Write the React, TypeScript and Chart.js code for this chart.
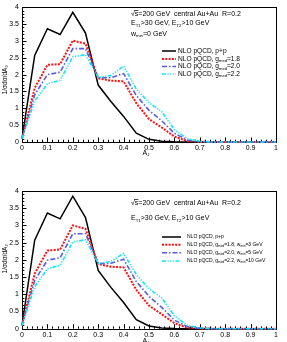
import React, { useEffect, useRef } from "react";
import { Chart, registerables } from "chart.js";
Chart.register(...registerables);

const AJ = [0, 0.05, 0.1, 0.15, 0.2, 0.25, 0.3, 0.35, 0.4, 0.45, 0.5, 0.55, 0.6, 0.65, 0.7, 0.75, 0.8, 0.85, 0.9, 0.95, 1.0];

const topPP = [0.1, 2.57, 3.36, 3.19, 3.85, 3.23, 1.69, 1.2, 0.76, 0.26, 0.08, 0.02, 0.005, 0, 0, 0, 0, 0, 0, 0, 0];
const topG18 = [0.1, 1.6, 2.29, 2.31, 3.01, 2.92, 1.89, 1.82, 1.8, 1.15, 0.68, 0.43, 0.16, 0.03, 0.01, 0, 0, 0, 0, 0, 0];
const topG20 = [0.1, 1.4, 2.0, 2.07, 2.77, 2.77, 1.9, 1.91, 2.03, 1.38, 0.94, 0.63, 0.26, 0.06, 0.01, 0, 0, 0, 0, 0, 0];
const topG22 = [0.1, 1.22, 1.73, 1.83, 2.53, 2.59, 1.92, 1.97, 2.25, 1.57, 1.17, 0.9, 0.37, 0.1, 0.02, 0, 0, 0, 0, 0, 0];

const botPP = [0.1, 2.57, 3.36, 3.19, 3.85, 3.23, 1.69, 1.2, 0.76, 0.26, 0.08, 0.02, 0.005, 0, 0, 0, 0, 0, 0, 0, 0];
const botG18 = [0.1, 1.6, 2.27, 2.3, 3.0, 2.9, 1.88, 1.8, 1.78, 1.13, 0.67, 0.42, 0.16, 0.03, 0.01, 0, 0, 0, 0, 0, 0];
const botG20 = [0.1, 1.4, 1.99, 2.06, 2.76, 2.76, 1.89, 1.9, 2.02, 1.37, 0.94, 0.62, 0.25, 0.06, 0.01, 0, 0, 0, 0, 0, 0];
const botG22 = [0.1, 1.22, 1.74, 1.84, 2.52, 2.58, 1.9, 1.95, 2.19, 1.57, 1.16, 0.9, 0.37, 0.1, 0.02, 0, 0, 0, 0, 0, 0];

const yTickValues = [0, 0.5, 1, 1.5, 2, 2.5, 3, 3.5, 4];
const xTickValues = [0, 0.1, 0.2, 0.3, 0.4, 0.5, 0.6, 0.7, 0.8, 0.9, 1];

const FONT = '"Liberation Sans", Arial, Helvetica, sans-serif';

type Part = [string, number];

const STYLES = [
  { color: "#000000", width: 1.5, dash: [] as number[] },
  { color: "#ff1010", width: 2, dash: [2, 1.3] },
  { color: "#5a5ae6", width: 1.6, dash: [5, 2, 1.5, 2] },
  { color: "#10e6f0", width: 1.6, dash: [4, 1.5, 1.2, 1.5, 1.2, 1.5, 1.2, 1.5] },
];

const fmt = (v: number) => String(Math.round(v * 100) / 100);

function drawRich(ctx: CanvasRenderingContext2D, parts: Part[], x: number, y: number, size: number) {
  let cx = x;
  ctx.textBaseline = "middle";
  ctx.textAlign = "left";
  for (const [t, sub] of parts) {
    const fs = sub ? size * 0.62 : size;
    ctx.font = `${fs}px ${FONT}`;
    ctx.fillText(t, cx, sub ? y + size * 0.32 : y);
    cx += ctx.measureText(t).width;
  }
  return cx;
}

function richWidth(ctx: CanvasRenderingContext2D, parts: Part[], size: number) {
  let w = 0;
  for (const [t, sub] of parts) {
    ctx.font = `${sub ? size * 0.62 : size}px ${FONT}`;
    w += ctx.measureText(t).width;
  }
  return w;
}

interface PanelCfg {
  series: number[][];
  labels: Part[][];
  lines: { parts: Part[]; y: number; sqrt?: boolean }[];
  textX: number;
  textSize: number;
  legendY: number[];
  legendX1: number;
  legendX2: number;
  legendTextX: number;
  legendSize: number;
  topPad: number;
  xScaleH: number;
  xTitleY: number;
  yTitleY: number;
}

const rootPlugin = {
  id: "rootPanel",
  beforeDatasetsDraw(chart: any) {
    const { ctx, chartArea } = chart;
    const xs = chart.scales.x;
    const ys = chart.scales.y;
    ctx.save();
    ctx.strokeStyle = "#000";
    ctx.lineWidth = 1;
    ctx.beginPath();
    for (let i = 0; i <= 40; i++) {
      const v = i / 10;
      const py = Math.round(ys.getPixelForValue(v)) + 0.5;
      const len = i % 5 === 0 ? 4.5 : 2.3;
      ctx.moveTo(chartArea.left, py);
      ctx.lineTo(chartArea.left + len, py);
    }
    for (let i = 0; i <= 50; i++) {
      const v = i / 50;
      const px = Math.round(xs.getPixelForValue(v)) + 0.5;
      const len = i % 5 === 0 ? 4.5 : 2.3;
      ctx.moveTo(px, chartArea.bottom);
      ctx.lineTo(px, chartArea.bottom - len);
    }
    ctx.stroke();
    ctx.strokeRect(
      Math.round(chartArea.left) + 0.5,
      Math.round(chartArea.top) + 0.5,
      Math.round(chartArea.right - chartArea.left),
      Math.round(chartArea.bottom - chartArea.top)
    );
    ctx.restore();
  },
  afterDraw(chart: any) {
    const cfg: PanelCfg = chart.options.plugins.rootPanel.cfg;
    const { ctx } = chart;
    ctx.save();
    ctx.fillStyle = "#000";
    for (const ln of cfg.lines) {
      let x = cfg.textX;
      if (ln.sqrt) {
        ctx.font = `${cfg.textSize}px ${FONT}`;
        ctx.textBaseline = "middle";
        ctx.fillText("\u221A", x, ln.y);
        const wr = ctx.measureText("\u221A").width;
        const ws = ctx.measureText("s").width;
        ctx.fillText("s", x + wr, ln.y);
        ctx.strokeStyle = "#000";
        ctx.lineWidth = 0.7;
        ctx.beginPath();
        ctx.moveTo(x + wr * 0.8, ln.y - cfg.textSize * 0.5);
        ctx.lineTo(x + wr + ws, ln.y - cfg.textSize * 0.5);
        ctx.stroke();
        x += wr + ws;
      }
      drawRich(ctx, ln.parts, x, ln.y, cfg.textSize);
    }
    cfg.labels.forEach((lab, i) => {
      const st = STYLES[i];
      const y = cfg.legendY[i];
      ctx.save();
      ctx.strokeStyle = st.color;
      ctx.lineWidth = st.width;
      ctx.setLineDash(st.dash);
      ctx.beginPath();
      ctx.moveTo(cfg.legendX1, y);
      ctx.lineTo(cfg.legendX2, y);
      ctx.stroke();
      ctx.restore();
      ctx.fillStyle = "#000";
      drawRich(ctx, lab, cfg.legendTextX, y, cfg.legendSize);
    });
    const xt: Part[] = [["A", 0], ["J", 1]];
    const xw = richWidth(ctx, xt, 7);
    drawRich(ctx, xt, 146 - xw / 2, cfg.xTitleY, 7);
    const yt: Part[] = [["1/\u03C3d\u03C3/dA", 0], ["J", 1]];
    const yw = richWidth(ctx, yt, 6.5);
    ctx.translate(5, cfg.yTitleY);
    ctx.rotate(-Math.PI / 2);
    drawRich(ctx, yt, -yw / 2, 0, 6.5);
    ctx.restore();
  },
};

function Panel({ cfg, top }: { cfg: PanelCfg; top: number }) {
  const ref = useRef<HTMLCanvasElement | null>(null);
  useEffect(() => {
    if (!ref.current) return;
    const datasets = cfg.series.map((s, i) => ({
      data: AJ.map((x, j) => ({ x, y: s[j] })),
      borderColor: STYLES[i].color,
      borderWidth: STYLES[i].width,
      borderDash: STYLES[i].dash,
      pointRadius: 0,
      fill: false,
      tension: 0,
      clip: 5,
    }));
    datasets.reverse();
    const chart = new Chart(ref.current, {
      type: "line",
      data: { datasets },
      options: {
        animation: false,
        responsive: false,
        devicePixelRatio: 1,
        layout: { padding: { left: 0, right: 11, top: cfg.topPad, bottom: 0 } },
        plugins: {
          legend: { display: false },
          tooltip: { enabled: false },
          rootPanel: { cfg },
        } as any,
        scales: {
          x: {
            type: "linear",
            min: 0,
            max: 1,
            afterBuildTicks: (s: any) => {
              s.ticks = xTickValues.map((v) => ({ value: v }));
            },
            afterFit: (s: any) => {
              s.height = cfg.xScaleH;
            },
            ticks: {
              autoSkip: false,
              maxRotation: 0,
              padding: 2,
              color: "#000",
              font: { family: FONT, size: 7 },
              callback: (v: any) => fmt(Number(v)),
            },
            grid: { display: false, drawTicks: false },
            border: { display: false },
          },
          y: {
            type: "linear",
            min: 0,
            max: 4,
            afterBuildTicks: (s: any) => {
              s.ticks = yTickValues.map((v) => ({ value: v }));
            },
            afterFit: (s: any) => {
              s.width = 22;
            },
            ticks: {
              autoSkip: false,
              padding: 3,
              color: "#000",
              font: { family: FONT, size: 7 },
              callback: (v: any) => fmt(Number(v)),
            },
            grid: { display: false, drawTicks: false },
            border: { display: false },
          },
        },
      },
      plugins: [rootPlugin as any],
    });
    return () => chart.destroy();
  }, [cfg]);
  return (
    <canvas
      ref={ref}
      width={287}
      height={171}
      style={{ position: "absolute", left: 0, top, width: 287, height: 171 }}
    />
  );
}

const topCfg: PanelCfg = {
  series: [topPP, topG18, topG20, topG22],
  labels: [
    [["NLO pQCD, p+p", 0]],
    [["NLO pQCD, g", 0], ["med", 1], ["=1.8", 0]],
    [["NLO pQCD, g", 0], ["med", 1], ["=2.0", 0]],
    [["NLO pQCD, g", 0], ["med", 1], ["=2.2", 0]],
  ],
  lines: [
    { parts: [["=200 GeV  central Au+Au  R=0.2", 0]], y: 14, sqrt: true },
    { parts: [["E", 0], ["T1", 1], [">30 GeV, E", 0], ["T2", 1], [">10 GeV", 0]], y: 23.5 },
    { parts: [["w", 0], ["min", 1], ["=0 GeV", 0]], y: 34 },
  ],
  textX: 131,
  textSize: 7,
  legendY: [51, 59, 66.5, 74],
  legendX1: 162,
  legendX2: 176,
  legendTextX: 178,
  legendSize: 6.6,
  topPad: 4.7,
  xScaleH: 29,
  xTitleY: 153,
  yTitleY: 80,
};

const botCfg: PanelCfg = {
  series: [botPP, botG18, botG20, botG22],
  labels: [
    [["NLO pQCD, p+p", 0]],
    [["NLO pQCD, g", 0], ["med", 1], ["=1.8, w", 0], ["min", 1], ["=3 GeV", 0]],
    [["NLO pQCD, g", 0], ["med", 1], ["=2.0, w", 0], ["min", 1], ["=5 GeV", 0]],
    [["NLO pQCD, g", 0], ["med", 1], ["=2.2, w", 0], ["min", 1], ["=10 GeV", 0]],
  ],
  lines: [
    { parts: [["=200 GeV  central Au+Au  R=0.2", 0]], y: 32, sqrt: true },
    { parts: [["E", 0], ["T1", 1], [">30 GeV, E", 0], ["T2", 1], [">10 GeV", 0]], y: 47.5 },
  ],
  textX: 131,
  textSize: 7,
  legendY: [66, 73.7, 81.7, 90],
  legendX1: 162,
  legendX2: 181,
  legendTextX: 187,
  legendSize: 5,
  topPad: 20,
  xScaleH: 13.3,
  xTitleY: 170,
  yTitleY: 88,
};

export default function App() {
  return (
    <div style={{ position: "absolute", left: 0, top: 0, width: 287, height: 342, background: "#fff", overflow: "hidden" }}>
      <Panel cfg={topCfg} top={0} />
      <Panel cfg={botCfg} top={171} />
    </div>
  );
}
